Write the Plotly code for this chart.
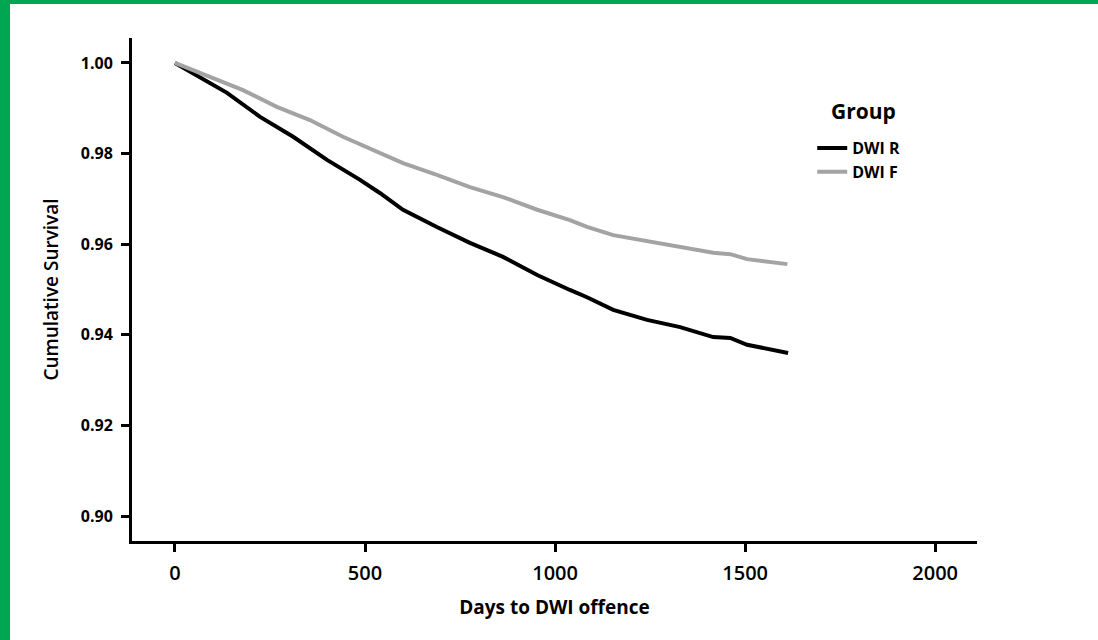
import plotly.graph_objects as go

# Days to DWI offence
days_r = [0, 47, 137, 224, 311, 400, 487, 539, 600, 689, 776, 863, 953, 1039, 1084,
          1153, 1242, 1329, 1416, 1461, 1505, 1613]
surv_r = [1.0, 0.9978, 0.9934, 0.9881, 0.9837, 0.9786, 0.9742, 0.9713, 0.9676, 0.9638,
          0.9603, 0.9572, 0.9532, 0.9499, 0.9483, 0.9455, 0.9433, 0.9417, 0.9395, 0.9393,
          0.9378, 0.9360]

days_f = [0, 92, 179, 268, 355, 442, 532, 600, 689, 776, 863, 953, 1039, 1084,
          1153, 1242, 1329, 1416, 1461, 1505, 1611]
surv_f = [1.0, 0.9969, 0.9940, 0.9903, 0.9874, 0.9837, 0.9804, 0.9779, 0.9753, 0.9726,
          0.9704, 0.9676, 0.9653, 0.9638, 0.9620, 0.9607, 0.9594, 0.9581, 0.9578, 0.9567,
          0.9556]

x_ticks = [0, 500, 1000, 1500, 2000]
y_ticks = [0.90, 0.92, 0.94, 0.96, 0.98, 1.00]
y_tick_labels = ["0.90", "0.92", "0.94", "0.96", "0.98", "1.00"]

FONT = "Open Sans"

fig = go.Figure()
fig.add_trace(go.Scatter(x=days_r, y=surv_r, mode="lines", name="DWI R",
                         line=dict(color="#000000", width=4)))
fig.add_trace(go.Scatter(x=days_f, y=surv_f, mode="lines", name="DWI F",
                         line=dict(color="#a3a3a3", width=4)))

axis_common = dict(showgrid=False, zeroline=False, showline=True, linecolor="black",
                   linewidth=3, ticks="outside", ticklen=8, tickwidth=3, tickcolor="black")

fig.update_xaxes(range=[-113, 2110], tickvals=x_ticks, ticklabelstandoff=4,
                 tickfont=dict(family=FONT, size=20, color="black", weight=600),
                 title=dict(text="Days to DWI offence", standoff=16,
                            font=dict(family=FONT, size=19, color="black", weight=700)),
                 **axis_common)
fig.update_yaxes(range=[0.8945, 1.0055], tickvals=y_ticks, ticktext=y_tick_labels,
                 ticklabelstandoff=5,
                 tickfont=dict(family=FONT, size=16, color="black", weight=700),
                 title=dict(text="Cumulative Survival", standoff=18,
                            font=dict(family=FONT, size=19, color="black", weight=600)),
                 **axis_common)

fig.update_layout(
    width=1098, height=640,
    margin=dict(l=132, r=121, t=38, b=99),
    plot_bgcolor="white", paper_bgcolor="white",
    showlegend=True,
    legend=dict(x=0.805, y=0.815, xanchor="left", yanchor="top",
                font=dict(family=FONT, size=16, color="black", weight=700),
                itemwidth=30, tracegroupgap=0, bgcolor="rgba(0,0,0,0)"),
    annotations=[
        dict(text="Group", xref="paper", yref="paper", x=0.866, y=0.855,
             xanchor="center", yanchor="middle", showarrow=False,
             font=dict(family=FONT, size=21, color="black", weight=700)),
    ],
    shapes=[
        dict(type="rect", xref="paper", yref="paper",
             x0=-132 / 845, x1=(10 - 132) / 845, y0=-99 / 503, y1=(503 + 38) / 503,
             fillcolor="#00a651", line=dict(width=0), layer="above"),
        dict(type="rect", xref="paper", yref="paper",
             x0=-132 / 845, x1=(1098 - 132) / 845, y0=(503 + 34) / 503, y1=(503 + 38) / 503,
             fillcolor="#00a651", line=dict(width=0), layer="above"),
    ],
)

fig.write_html("out.html", config={"displayModeBar": False},
               post_script="document.body.style.margin='0';")
